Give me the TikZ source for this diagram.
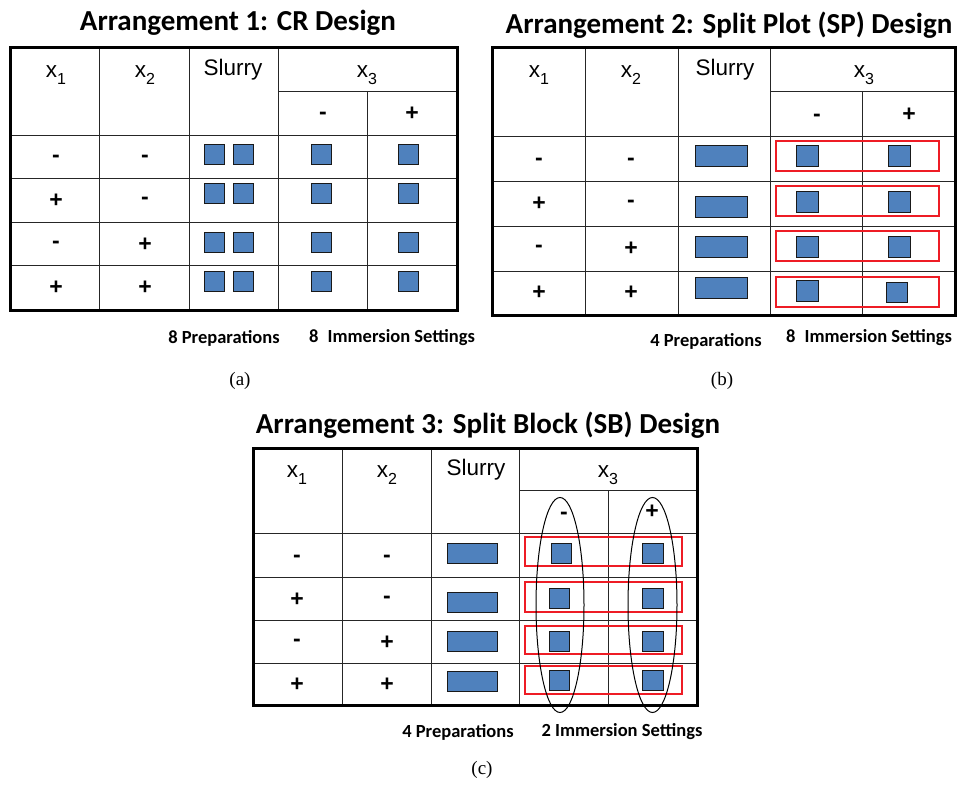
\documentclass[tikz,border=0pt]{standalone}
\usepackage{fontspec}
\usetikzlibrary{shapes.geometric}
\setmainfont{Liberation Sans}
\newfontfamily\calfont{Carlito}
\newfontfamily\capfont{Liberation Serif}
\definecolor{cellblue}{HTML}{4F81BD}
\definecolor{redbox}{HTML}{EE1C25}
\newcommand{\xsub}[1]{x\raisebox{-0.3em}{\fontsize{16bp}{16bp}\selectfont #1}}
\tikzset{
  ttl/.style={font=\calfont\bfseries\fontsize{29bp}{32bp}\selectfont, inner sep=0pt},
  foot/.style={font=\calfont\bfseries\fontsize{18.5bp}{21bp}\selectfont, inner sep=0pt},
  hdr/.style={font=\fontsize{22.5bp}{25bp}\selectfont, inner sep=0pt},
  sgn/.style={font=\bfseries\fontsize{23bp}{25bp}\selectfont, inner sep=0pt},
  capt/.style={font=\capfont\fontsize{19bp}{22bp}\selectfont, inner sep=0pt},
  outer/.style={draw=black, line width=3bp},
  inner/.style={draw=black!85, line width=1bp},
  blk/.style={fill=cellblue, draw=black!90, line width=1bp},
  redr/.style={draw=redbox, line width=1.3bp},
  ell/.style={draw=black, line width=1bp}
}
\begin{document}
\begin{tikzpicture}[x=1bp,y=-1bp]
\useasboundingbox[fill=white] (0,0) rectangle (964,786);

% ================= Panel (a) =================
\node[ttl] (ta) at (238,23) {Arrangement 1: CR Design};
\draw[inner] (99,48) -- (99,310) (189,48) -- (189,310) (278,48) -- (278,310) (367,91) -- (367,310);
\draw[inner] (278,91) -- (457,91) (10,135) -- (457,135) (10,178) -- (457,178) (10,222) -- (457,222) (10,265) -- (457,265);
\draw[outer] (10,48) rectangle (457,310);
\node[hdr] (a-x1) at (56,75) {\xsub{1}};
\node[hdr] (a-x2) at (145,75) {\xsub{2}};
\node[hdr] (a-sl) at (233,70) {Slurry};
\node[hdr] (a-x3) at (367,75) {\xsub{3}};
\node[sgn] (a-m) at (323,116) {-};
\node[sgn] (a-p) at (412,114) {+};
\foreach \r/\a/\b/\y in {1/-/-/159, 2/+/-/201, 3/-/+/245, 4/+/+/288} {
  \node[sgn] (a-r\r a) at (56,\y) {\a};
  \node[sgn] (a-r\r b) at (145,\y) {\b};
}
\foreach \t in {144,183,232,271} {
  \draw[blk] (204,\t) rectangle ++(20,20);
  \draw[blk] (233,\t) rectangle ++(20,20);
  \draw[blk] (311,\t) rectangle ++(20,20);
  \draw[blk] (398,\t) rectangle ++(20,20);
}
\node[foot] (a-f1) at (224,338) {8 Preparations};
\node[foot] (a-f2) at (392,338) {8\enspace Immersion Settings};
\node[capt] (ca) at (240,381) {(a)};

% ================= Panel (b) =================
\node[ttl] (tb) at (729,25) {Arrangement 2: Split Plot (SP) Design};
\draw[inner] (585,48) -- (585,315) (678,48) -- (678,315) (770,48) -- (770,315) (862,91) -- (862,315);
\draw[inner] (770,91) -- (955,91) (492,136) -- (955,136) (492,181) -- (955,181) (492,226) -- (955,226) (492,271) -- (955,271);
\draw[outer] (492,48) rectangle (955,315);
\node[hdr] (b-x1) at (539,75) {\xsub{1}};
\node[hdr] (b-x2) at (631,75) {\xsub{2}};
\node[hdr] (b-sl) at (725,70) {Slurry};
\node[hdr] (b-x3) at (864,75) {\xsub{3}};
\node[sgn] (b-m) at (817,118) {-};
\node[sgn] (b-p) at (909,115) {+};
\foreach \r/\a/\b/\y in {1/-/-/162, 2/+/-/204, 3/-/+/249, 4/+/+/293} {
  \node[sgn] (b-r\r a) at (539,\y) {\a};
  \node[sgn] (b-r\r b) at (631,\y) {\b};
}
\foreach \t in {145,196,236,277} { \draw[blk] (695,\t) rectangle ++(52,21); }
\foreach \t/\u in {141/145,186/191,231/236,277/280} {
  \draw[redr] (776,\t) rectangle ++(163,30);
  \draw[blk] (796,\u) rectangle ++(22,21);
}
\foreach \t in {145,191,236} { \draw[blk] (888,\t) rectangle ++(22,21); }
\draw[blk] (886,282) rectangle ++(21,20);
\node[foot] (b-f1) at (706,341) {4 Preparations};
\node[foot] (b-f2) at (869,338) {8\enspace Immersion Settings};
\node[capt] (cb) at (722,381) {(b)};

% ================= Panel (c) =================
\node[ttl] (tc) at (488,425) {Arrangement 3: Split Block (SB) Design};
\draw[inner] (342,448) -- (342,705) (431,448) -- (431,705) (519,448) -- (519,705) (608,490) -- (608,705);
\draw[inner] (519,490) -- (697,490) (253,533) -- (697,533) (253,577) -- (697,577) (253,620) -- (697,620) (253,663) -- (697,663);
\draw[outer] (253,448) rectangle (697,705);
\node[hdr] (c-x1) at (297,475) {\xsub{1}};
\node[hdr] (c-x2) at (387,475) {\xsub{2}};
\node[hdr] (c-sl) at (476,470) {Slurry};
\node[hdr] (c-x3) at (608,475) {\xsub{3}};
\node[sgn] (c-m) at (564,516) {-};
\node[sgn] (c-p) at (652,512) {+};
\foreach \r/\a/\b/\y in {1/-/-/559, 2/+/-/600, 3/-/+/643, 4/+/+/685} {
  \node[sgn] (c-r\r a) at (297,\y) {\a};
  \node[sgn] (c-r\r b) at (387,\y) {\b};
}
\foreach \t in {543,592,631,671} { \draw[blk] (447,\t) rectangle ++(50,20); }
\draw[redr] (525,537) rectangle (682,566);
\draw[redr] (525,582) rectangle (682,612);
\draw[redr] (525,626) rectangle (682,654);
\draw[redr] (525,666) rectangle (682,694);
\draw[blk] (551,543) rectangle ++(20,20);
\foreach \t in {588,631,670} { \draw[blk] (549,\t) rectangle ++(20,20); }
\foreach \t in {543,588,631,670} { \draw[blk] (642,\t) rectangle ++(21,20); }
\node[ell, ellipse, minimum width=48bp, minimum height=215bp, inner sep=0pt] (c-e1) at (560,605) {};
\node[ell, ellipse, minimum width=49bp, minimum height=215bp, inner sep=0pt] (c-e2) at (652.5,605) {};
\node[foot] (c-f1) at (458,732) {4 Preparations};
\node[foot] (c-f2) at (622,732) {2 Immersion Settings};
\node[capt] (cc) at (482,770) {(c)};
\end{tikzpicture}
\end{document}
